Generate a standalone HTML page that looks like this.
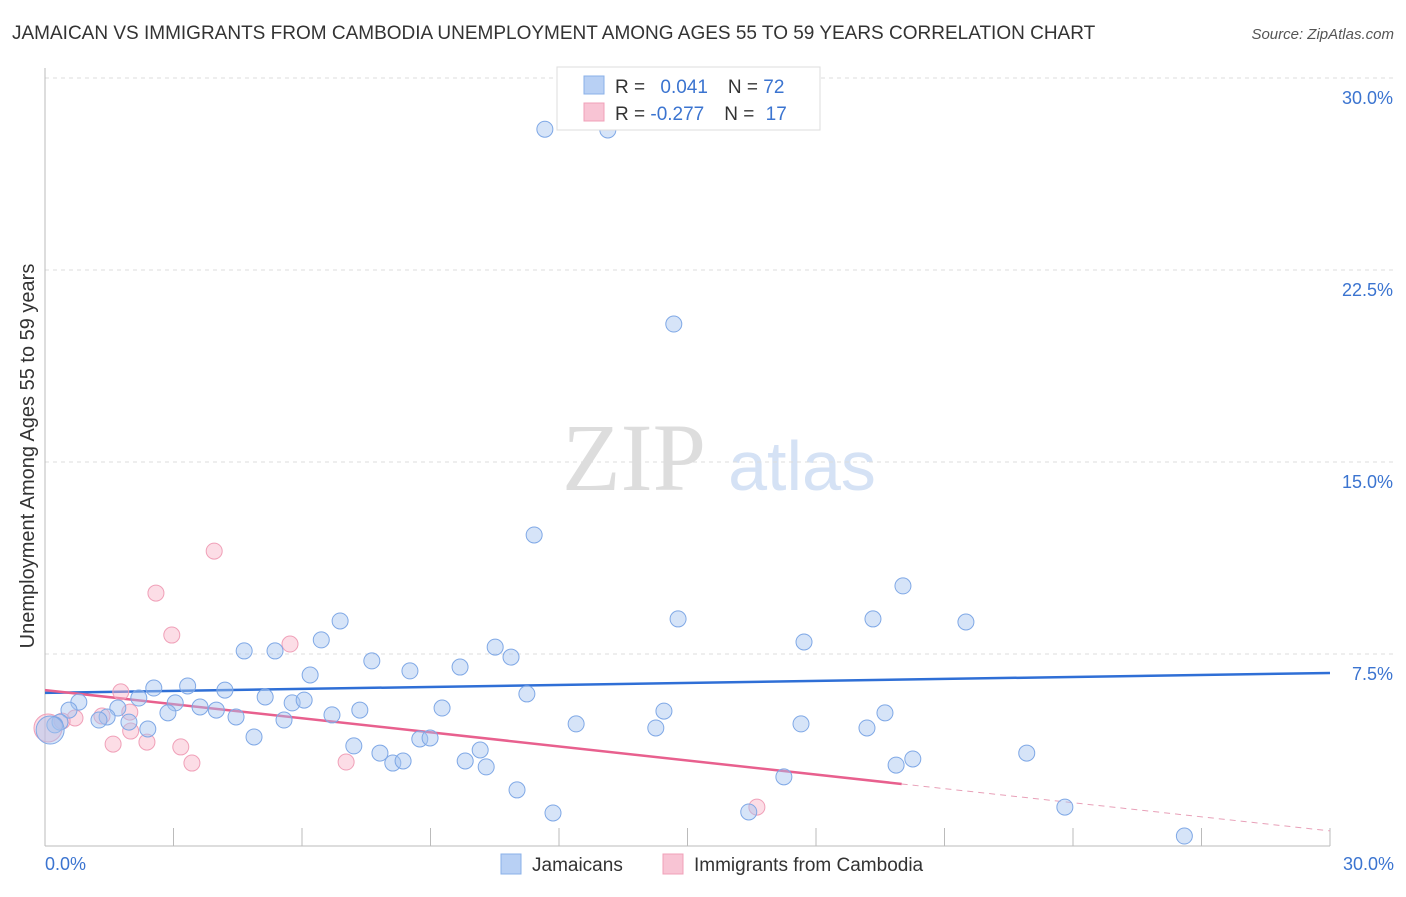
<!DOCTYPE html>
<html><head><meta charset="utf-8"><style>
body{margin:0;background:#fff;font-family:"Liberation Sans",sans-serif;}
</style></head><body>
<svg id="c" width="1406" height="892" xmlns="http://www.w3.org/2000/svg">
<text x="12" y="39" font-size="19" fill="#333">JAMAICAN VS IMMIGRANTS FROM CAMBODIA UNEMPLOYMENT AMONG AGES 55 TO 59 YEARS CORRELATION CHART</text>
<text x="1394" y="39" font-size="15" fill="#555" font-style="italic" text-anchor="end">Source: ZipAtlas.com</text>
<text x="634" y="490" font-size="96" fill="#ddd" font-family="Liberation Serif,serif" text-anchor="middle">ZIP</text>
<text x="802" y="490" font-size="70" fill="#d5e2f5" text-anchor="middle">atlas</text>
<text transform="translate(34,456) rotate(-90)" font-size="20" fill="#333" text-anchor="middle">Unemployment Among Ages 55 to 59 years</text>
<g id="grid"></g><g id="lines"></g><g id="pts"></g>
<g>
<rect x="557" y="67" width="263" height="63" fill="#fff" stroke="#ddd"/>
<rect x="584" y="76" width="20" height="18" fill="#b8d0f4" stroke="#8ab0e8"/>
<rect x="584" y="103" width="20" height="18" fill="#f8c4d4" stroke="#f0a0b8"/>
<text x="615" y="93" font-size="19" fill="#333">R = <tspan fill="#3b74d0" dx="10">0.041</tspan><tspan dx="20">N = </tspan><tspan fill="#3b74d0">72</tspan></text>
<text x="615" y="120" font-size="19" fill="#333">R = <tspan fill="#3b74d0">-0.277</tspan><tspan dx="20">N = </tspan><tspan fill="#3b74d0" dx="6">17</tspan></text>
</g>
<g>
<rect x="501" y="854" width="20" height="20" fill="#b8d0f4" stroke="#8ab0e8"/>
<text x="532" y="871" font-size="19" fill="#333">Jamaicans</text>
<rect x="663" y="854" width="20" height="20" fill="#f8c4d4" stroke="#f0a0b8"/>
<text x="694" y="871" font-size="19" fill="#333">Immigrants from Cambodia</text>
</g>
</svg>
<script>
const yTicks=[7.5,15,22.5,30];
const yTickLabels=["7.5%","15.0%","22.5%","30.0%"];
const xTickCount=10;
const jamX=[11.67,13.14,14.68,11.42,20.03,14.78,19.33,21.5,6.89,6.45,17.72,4.65,5.37,10.51,10.88,7.63,9.69,8.52,6.19,2.54,3.33,4.2,5.14,11.25,2.19,0.79,3.04,5.77,6.05,0.56,1.7,2.87,3.62,4.0,4.46,6.7,7.35,9.27,14.45,19.61,1.45,1.96,1.26,5.58,12.4,17.65,14.26,19.19,2.4,0.35,0.23,4.88,8.75,8.99,7.21,7.82,10.16,22.92,20.26,19.87,8.12,8.36,9.81,10.3,17.25,11.02,23.81,11.86,16.43,26.6,0.12];
const jamY=[28.0,27.97,20.39,12.15,10.16,8.87,8.87,8.75,8.79,8.05,7.97,7.62,7.62,7.77,7.38,7.23,6.99,6.84,6.68,6.17,6.25,6.09,5.82,5.94,5.78,5.62,5.59,5.59,5.7,5.31,5.39,5.2,5.43,5.31,5.04,5.12,5.31,5.39,5.27,5.2,5.04,4.84,4.92,4.92,4.77,4.77,4.61,4.61,4.57,4.84,4.73,4.26,4.18,4.22,3.91,3.63,3.75,3.63,3.4,3.16,3.24,3.32,3.32,3.09,2.7,2.19,1.52,1.29,1.33,0.39,4.53];
const camX=[3.95,2.59,2.96,5.72,1.77,1.98,1.33,0.7,0.4,2.0,1.59,2.38,3.17,3.43,7.03,16.62,0.07];
const camY=[11.52,9.88,8.24,7.89,6.02,5.23,5.08,5.0,4.88,4.49,3.98,4.06,3.87,3.24,3.28,1.52,4.61];
const jamTrend=[5.98,6.76];
const camTrend=[6.09,0.59];
const camSolidEnd=20.0;
const NS="http://www.w3.org/2000/svg";
const X=v=>45+v/30*1285, Y=v=>846-v/7.5*192;
function mk(t,a,p){const e=document.createElementNS(NS,t);for(const k in a)e.setAttribute(k,a[k]);p.appendChild(e);return e;}
const g=document.getElementById('grid');
yTicks.forEach((t,i)=>{
 const l=mk('line',{x1:45,x2:1394,y1:Y(t),y2:Y(t),stroke:'#ddd','stroke-dasharray':'4,4'},g);
 
 
 const tx=mk('text',{x:1393,y:Y(t)+26,'font-size':18,fill:'#3b74d0','text-anchor':'end'},g);
 tx.textContent=yTickLabels[i];
 
 
});
const ax=mk('line',{x1:45,x2:1330,y1:846,y2:846,stroke:'#bbb'},g);


const ay=mk('line',{x1:45,x2:45,y1:68,y2:846,stroke:'#bbb'},g);


for(let i=1;i<=xTickCount;i++){const x=X(30*i/xTickCount);
 const t=mk('line',{x1:x,x2:x,y1:828,y2:846,stroke:'#bbb'},g);
 
 }
const x0=mk('text',{x:45,y:870,'font-size':18,fill:'#3b74d0'},g);x0.textContent='0.0%';


const x1=mk('text',{x:1394,y:870,'font-size':18,fill:'#3b74d0','text-anchor':'end'},g);x1.textContent='30.0%';


const p=document.getElementById('pts');
camX.forEach((v,i)=>{const c=mk('circle',{cx:X(v),cy:Y(camY[i]),r:i==camX.length-1?14:8,fill:'rgba(248,180,200,0.45)',stroke:'#f0a0b8','stroke-width':1},p);
 
 });
jamX.forEach((v,i)=>{const c=mk('circle',{cx:X(v),cy:Y(jamY[i]),r:i==jamX.length-1?14:8,fill:'rgba(164,196,240,0.45)',stroke:'#7fa8e6','stroke-width':1},p);
 
 });
const L=document.getElementById('lines');
const jl=mk('line',{x1:X(0),y1:Y(jamTrend[0]),x2:X(30),y2:Y(jamTrend[1]),stroke:'#2f6fd6','stroke-width':2.5},L);


const cy=v=>camTrend[0]+(camTrend[1]-camTrend[0])*v/30;
const cl=mk('line',{x1:X(0),y1:Y(cy(0)),x2:X(camSolidEnd),y2:Y(cy(camSolidEnd)),stroke:'#e8608e','stroke-width':2.5},L);


const cd=mk('line',{x1:X(camSolidEnd),y1:Y(cy(camSolidEnd)),x2:X(30),y2:Y(cy(30)),stroke:'#e8a0b8','stroke-width':1,'stroke-dasharray':'6,5'},L);


</script>
</body></html>
